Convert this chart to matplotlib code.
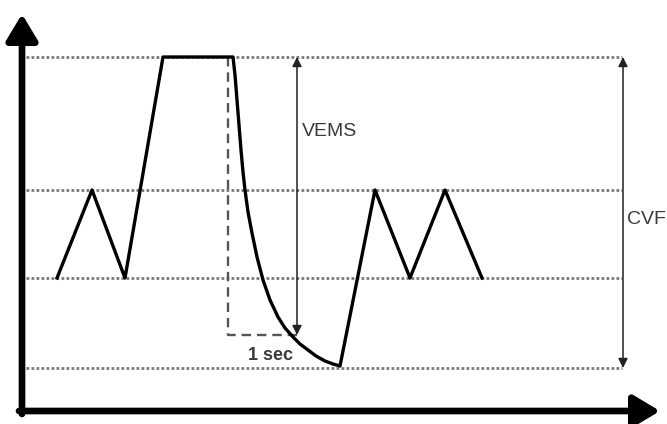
import matplotlib
matplotlib.use("Agg")
import matplotlib.pyplot as plt
import numpy as np

# Diagram data (in picture units: x = time, y = volume level, y grows downward)
levels = [57, 190, 278, 368]          # dotted reference levels
trace_t = [57, 92, 125, 163, 233, 235, 237, 239, 241, 243, 245, 248, 252, 257, 263, 270, 278, 285,
           293, 300, 308, 316, 325, 333, 340, 375, 410, 445, 482]
trace_v = [278, 190, 278, 57, 57, 75, 100, 125, 150, 172, 190, 212, 233, 257, 280, 300, 317, 328,
           337, 344, 350, 356, 361, 364, 366, 190, 278, 190, 278]
one_sec_t = [228, 297]                # start of expiration, 1 second later
vems_level = 335
cvf_t = 623
labels = {"vems": "VEMS", "cvf": "CVF", "sec": "1 sec"}

fig = plt.figure(figsize=(6.67, 4.24), dpi=100)
ax = fig.add_axes([0, 0, 1, 1])
ax.set_xlim(0, 667)
ax.set_ylim(424, 0)
ax.axis("off")

# dotted levels
for lv in levels:
    ax.plot([26, 622], [lv, lv], color="#7a7a7a", lw=2.0, linestyle=(0, (1, 0.8)), zorder=1)

# trace
ax.plot(trace_t, trace_v, color="black", lw=2.4, solid_joinstyle="round", zorder=3)

# dashed 1-sec guides
ax.plot([one_sec_t[0], one_sec_t[0], one_sec_t[1]], [levels[0], vems_level, vems_level],
        color="#555555", lw=1.7, linestyle=(0, (4, 2.5)), zorder=2)

# VEMS arrow
ax.annotate("", xy=(one_sec_t[1], levels[0]), xytext=(one_sec_t[1], vems_level),
            arrowprops=dict(arrowstyle="<|-|>", color="#222222", lw=1.1,
                            mutation_scale=14, shrinkA=0, shrinkB=0), zorder=4)
# CVF arrow
ax.annotate("", xy=(cvf_t, levels[0]), xytext=(cvf_t, levels[3]),
            arrowprops=dict(arrowstyle="<|-|>", color="#222222", lw=1.1,
                            mutation_scale=14, shrinkA=0, shrinkB=0), zorder=4)

ax.text(302, 131, labels["vems"], fontsize=14, color="#3a3a3a", ha="left", va="center",
        family="Liberation Sans")
ax.text(627, 220, labels["cvf"], fontsize=14, color="#3a3a3a", ha="left", va="center",
        family="Liberation Sans")
ax.text(248, 355, labels["sec"], fontsize=13, color="#3a3a3a", ha="left", va="center",
        family="Liberation Sans", fontweight="bold")

# axes arrows
ax.annotate("", xy=(22, 14), xytext=(22, 414),
            arrowprops=dict(arrowstyle="-|>,head_length=1.0,head_width=0.6", color="black",
                            lw=4.8, mutation_scale=16, shrinkA=0, shrinkB=0))
ax.annotate("", xy=(660, 411), xytext=(19, 411),
            arrowprops=dict(arrowstyle="-|>,head_length=1.0,head_width=0.6", color="black",
                            lw=4.8, mutation_scale=16, shrinkA=0, shrinkB=0))

fig.savefig("out.png", dpi=100)
